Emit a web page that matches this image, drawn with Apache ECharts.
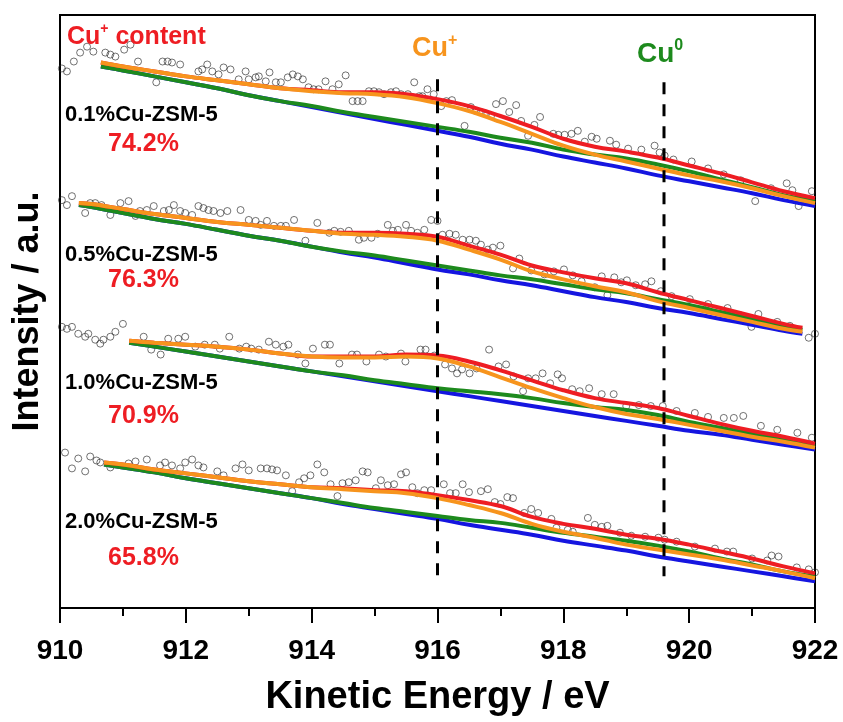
<!DOCTYPE html>
<html>
<head>
<meta charset="utf-8">
<title>Cu LMM</title>
<script src="https://cdn.jsdelivr.net/npm/echarts@6/dist/echarts.min.js"></script>
<style>
  html, body { margin: 0; padding: 0; background: #fff; }
  #chart { width: 843px; height: 722px; }
</style>
</head>
<body>
<div id="chart"></div>
<script>
  // spectra are stacked, so intensity is an offset arbitrary unit
  const samples = ['0.1%Cu-ZSM-5', '0.5%Cu-ZSM-5', '1.0%Cu-ZSM-5', '2.0%Cu-ZSM-5']
  const cuPlusContent = ['74.2%', '76.3%', '70.9%', '65.8%']
  const peakCuPlus = 916
  const peakCu0 = 919.6

  // 0.1%
  const dots1 = [[910.03,545],[910.11,542],[910.22,552],[910.32,561],[910.43,567],[910.53,562],[910.72,561],[910.80,559],[910.88,557],[911.02,564],[911.12,569],[911.24,552],[911.53,531],[911.63,552],[911.71,552],[911.78,551],[911.91,549],[912.20,542],[912.26,544],[912.34,549],[912.42,542],[912.52,539],[912.60,546],[912.71,544],[912.84,534],[912.95,542],[913.00,534],[913.11,536],[913.16,537],[913.27,532],[913.33,541],[913.43,531],[913.51,531],[913.62,536],[913.70,539],[913.78,537],[913.86,534],[913.95,526],[914.03,524],[914.11,524],[914.22,532],[914.33,524],[914.43,529],[914.54,538],[914.65,512],[914.73,512],[914.81,512],[914.91,522],[914.99,522],[915.07,521],[915.15,519],[915.26,521],[915.34,522],[915.42,519],[915.53,519],[915.63,531],[915.71,517],[915.76,517],[915.84,524],[915.94,519],[916.06,507],[916.14,512],[916.23,513],[916.43,487],[916.53,506],[916.61,502],[916.69,501],[916.77,499],[916.85,497],[916.93,509],[917.04,512],[917.14,501],[917.25,508],[917.33,492],[917.44,477],[917.54,488],[917.63,496],[917.84,479],[917.92,478],[918.02,478],[918.13,479],[918.23,482],[918.34,471],[918.45,476],[918.53,474],[918.74,472],[918.84,468],[919.03,464],[919.24,463],[919.45,467],[919.53,460],[919.61,457],[919.75,453],[920.04,451],[920.30,444],[920.55,438],[920.82,432],[921.05,411],[921.30,424],[921.55,429],[921.64,422],[921.74,406],[921.95,421]]
  const fitX1 = [910.65,911,911.5,912,912.5,913,913.5,914,914.5,915,915.5,916,916.5,917,917.5,918,918.5,919,919.5,920,920.5,921,921.5,922]
  const bg1 = [547,543,537,531,525,518,512,506,500,494,488,482,476,469,463,456,450,444,437,431,425,419,412,406]
  const cuI1 = [551,547,542,537,533,529,525,522,520,519,516,510,502,491,479,467,458,451,444,437,431,424,416,409]
  const cu01 = [547,543,537,531,525,518,512,507,501,496,491,486,481,475,470,463,458,454,448,441,433,425,417,411]
  const env1 = [551,547,542,537,533,529,525,523,521,521,519,514,507,497,486,474,466,461,455,447,439,430,421,414]

  // 0.5%
  const dots2 = [[910.03,412],[910.11,407],[910.19,416],[910.40,399],[910.48,409],[910.56,409],[910.66,407],[910.80,397],[910.96,409],[911.09,411],[911.20,396],[911.27,401],[911.38,402],[911.49,406],[911.65,401],[911.73,402],[911.81,407],[911.91,401],[911.99,399],[912.10,397],[912.20,406],[912.28,404],[912.36,402],[912.44,401],[912.55,399],[912.66,401],[912.87,402],[913.00,392],[913.11,391],[913.19,387],[913.29,391],[913.40,386],[913.51,386],[913.59,386],[913.72,392],[913.90,371],[914.09,389],[914.28,379],[914.36,381],[914.46,380],[914.59,381],[914.75,372],[914.83,374],[914.95,374],[915.05,378],[915.21,387],[915.29,381],[915.37,382],[915.50,387],[915.58,381],[915.68,379],[915.79,382],[915.90,392],[916.00,391],[916.08,377],[916.19,378],[916.29,377],[916.40,372],[916.51,372],[916.61,371],[916.69,367],[916.80,362],[916.88,364],[917.00,366],[917.20,343],[917.30,353],[917.49,341],[917.70,337],[917.85,340],[918.01,342],[918.15,336],[918.29,330],[918.50,324],[918.61,335],[918.70,316],[918.81,334],[918.92,329],[919.01,331],[919.15,326],[919.30,327],[919.40,330],[919.55,320],[919.72,315],[920.01,312],[920.30,307],[920.61,303],[920.80,296],[920.99,284],[921.10,297],[921.40,289],[921.60,285],[921.90,273],[922.00,277]]
  const fitX2 = [910.3,910.5,911,911.5,912,912.5,913,913.5,914,914.5,915,915.5,916,916.5,917,917.5,918,918.5,919,919.5,920,920.5,921,921.5,921.8]
  const bg2 = [407,405,399,393,388,382,376,371,365,359,354,348,342,337,331,326,320,314,309,303,298,292,286,280,277]
  const cuI2 = [409,408,403,398,394,390,387,384,381,378,377,375,371,362,352,340,332,325,319,310,303,296,289,282,279]
  const cu02 = [407,405,399,393,388,382,376,371,365,360,356,351,346,341,336,332,327,322,318,312,306,299,292,285,281]
  const env2 = [409,408,403,398,394,390,387,384,381,379,379,378,375,366,357,346,339,333,328,319,311,303,295,287,283]

  // 1.0%
  const dots3 = [[910.03,284],[910.11,282],[910.19,284],[910.29,277],[910.40,274],[910.45,277],[910.56,271],[910.64,267],[910.69,271],[910.80,274],[910.88,279],[911.00,287],[911.33,274],[911.45,261],[911.60,256],[911.72,272],[911.88,272],[911.99,274],[912.15,264],[912.30,266],[912.46,266],[912.54,262],[912.69,274],[912.85,262],[912.96,264],[913.04,262],[913.16,261],[913.32,269],[913.43,266],[913.55,264],[913.63,266],[913.78,256],[913.90,247],[914.02,262],[914.21,266],[914.29,266],[914.44,247],[914.64,256],[914.72,256],[914.87,249],[915.07,256],[915.18,254],[915.42,257],[915.49,249],[915.73,261],[915.81,261],[915.95,255],[916.12,246],[916.23,242],[916.31,237],[916.39,241],[916.51,237],[916.62,242],[916.82,261],[916.97,244],[917.09,246],[917.21,234],[917.36,219],[917.44,232],[917.56,232],[917.67,237],[917.79,227],[917.91,236],[917.98,232],[918.14,221],[918.26,219],[918.41,222],[918.61,216],[918.80,216],[919.00,204],[919.20,205],[919.39,204],[919.58,204],[919.80,199],[920.09,197],[920.30,193],[920.55,192],[920.71,192],[920.86,194],[921.14,184],[921.40,180],[921.72,177],[921.95,172]]
  const fitX3 = [911.1,911.5,912,912.5,913,913.5,914,914.5,915,915.5,916,916.5,917,917.5,918,918.5,919,919.5,920,920.5,921,921.5,922]
  const bg3 = [268,264,259,254,249,244,239,234,229,224,219,214,209,204,199,194,189,184,179,175,170,165,160]
  const cuI3 = [270,268,266,264,261,257,254,253,253,254,252,244,233,222,212,203,196,191,185,179,173,168,162]
  const cu03 = [268,264,259,254,249,244,239,235,230,226,222,219,216,212,207,203,200,195,188,182,176,170,164]
  const env3 = [270,268,266,264,261,257,254,254,254,256,255,249,240,230,220,212,207,202,194,186,179,173,166]

  // 2.0%
  const dots4 = [[910.08,157],[910.19,141],[910.29,151],[910.40,138],[910.48,153],[910.58,149],[910.64,147],[910.80,142],[911.09,146],[911.20,148],[911.38,150],[911.59,144],[911.67,147],[911.78,144],[911.91,141],[911.99,147],[912.10,150],[912.20,144],[912.28,142],[912.50,138],[912.60,134],[912.79,141],[912.90,145],[913.00,139],[913.19,141],[913.29,141],[913.37,140],[913.45,139],[913.59,134],[913.69,118],[913.80,127],[913.88,131],[913.98,134],[914.09,145],[914.20,137],[914.30,125],[914.41,113],[914.49,126],[914.59,127],[914.70,129],[914.81,138],[914.89,137],[915.02,121],[915.10,129],[915.21,124],[915.31,125],[915.42,135],[915.50,137],[915.60,122],[915.68,116],[915.79,119],[915.90,119],[916.10,125],[916.20,116],[916.29,116],[916.40,125],[916.50,117],[916.69,118],[916.80,120],[916.91,107],[917.00,105],[917.11,112],[917.20,111],[917.38,96],[917.49,100],[917.60,96],[917.81,90],[917.89,81],[918.07,79],[918.15,77],[918.39,91],[918.50,84],[918.61,82],[918.70,83],[918.90,76],[919.08,73],[919.30,72],[919.51,71],[919.61,69],[919.80,67],[920.09,62],[920.41,60],[920.60,57],[920.70,57],[921.00,50],[921.24,48],[921.31,53],[921.42,52],[921.71,41],[921.90,39],[922.00,36]]
  const fitX4 = [910.7,911,911.5,912,912.5,913,913.5,914,914.5,915,915.5,916,916.5,917,917.5,918,918.5,919,919.5,920,920.5,921,921.5,922]
  const bg4 = [145,142,137,131,126,121,116,111,105,100,95,90,84,79,74,68,63,58,52,47,42,37,32,27]
  const cuI4 = [147,145,140,136,132,128,125,122,120,118,116,111,104,96,85,77,71,64,59,54,49,43,37,30]
  const cu04 = [145,142,137,131,126,121,116,111,106,101,97,93,89,86,81,76,72,68,63,57,50,44,37,32]
  const env4 = [147,145,140,136,132,128,125,122,121,119,118,114,109,103,92,85,80,74,70,64,57,50,42,35]

  const FONT = 'Liberation Sans, Arial, sans-serif'
  const RED = '#ee1d23'
  const ORANGE = '#f7941d'
  const GREEN = '#1d8a1d'
  const BLUE = '#1515e0'

  function zip(xs, ys) {
    return xs.map(function (x, i) { return [x, ys[i]] })
  }

  function fitLine(xs, ys, color, z) {
    return {
      type: 'line',
      data: zip(xs, ys),
      smooth: 0.4,
      symbol: 'none',
      silent: true,
      z: z,
      lineStyle: { color: color, width: 4 }
    }
  }

  function dots(d) {
    return {
      type: 'scatter',
      data: d,
      symbol: 'circle',
      symbolSize: 7,
      silent: true,
      z: 1,
      itemStyle: { color: 'rgba(0,0,0,0)', borderColor: '#222', borderWidth: 0.8 }
    }
  }

  function dashed(x, top, bottom) {
    return {
      type: 'line',
      data: [[x, top], [x, bottom]],
      symbol: 'none',
      silent: true,
      z: 10,
      lineStyle: { color: '#000', width: 3, type: [12, 10] }
    }
  }

  const spectra = [
    [dots1, fitX1, bg1, cu01, env1, cuI1],
    [dots2, fitX2, bg2, cu02, env2, cuI2],
    [dots3, fitX3, bg3, cu03, env3, cuI3],
    [dots4, fitX4, bg4, cu04, env4, cuI4]
  ]

  var series = []
  spectra.forEach(function (s) {
    series.push(dots(s[0]))
    series.push(fitLine(s[1], s[2], BLUE, 2))
    series.push(fitLine(s[1], s[3], GREEN, 3))
    series.push(fitLine(s[1], s[4], RED, 4))
    series.push(fitLine(s[1], s[5], ORANGE, 5))
  })
  series.push(dashed(peakCuPlus, 534, 31))
  series.push(dashed(peakCu0, 531, 32))

  // label positions (pixels)
  const labelY = [115, 255, 383, 522]
  const pctY = [144, 280, 416, 558]

  var graphics = []
  samples.forEach(function (name, i) {
    graphics.push({
      type: 'text', x: 65, y: labelY[i], z: 20,
      style: { text: name, fill: '#000', font: 'bold 22px ' + FONT, verticalAlign: 'middle' }
    })
    graphics.push({
      type: 'text', x: 108, y: pctY[i], z: 20,
      style: { text: cuPlusContent[i], fill: RED, font: 'bold 25px ' + FONT, verticalAlign: 'middle' }
    })
  })

  function supText(x, y, main, sup, rest, color, size) {
    return {
      type: 'text', x: x, y: y, z: 20,
      style: {
        text: '{b|' + main + '}{s|' + sup + '}' + (rest ? '{b|' + rest + '}' : ''),
        verticalAlign: 'middle',
        rich: {
          b: { fontSize: size, fontWeight: 'bold', fontFamily: FONT, fill: color, lineHeight: size + 5 },
          s: { fontSize: Math.round(size * 0.58), fontWeight: 'bold', fontFamily: FONT, fill: color, verticalAlign: 'top' }
        }
      }
    }
  }

  graphics.push(supText(67, 37, 'Cu', '+', ' content', RED, 25))
  graphics.push(supText(412, 49, 'Cu', '+', '', ORANGE, 27))
  graphics.push(supText(637, 54, 'Cu', '0', '', GREEN, 28))

  var chart = echarts.init(document.getElementById('chart'))
  chart.setOption({
    animation: false,
    backgroundColor: '#fff',
    grid: {
      left: 60, right: 28, top: 15, bottom: 108,
      show: true, borderColor: '#000', borderWidth: 2
    },
    xAxis: {
      type: 'value',
      min: 910,
      max: 922,
      interval: 2,
      name: 'Kinetic Energy / eV',
      nameLocation: 'middle',
      nameGap: 71,
      nameTextStyle: { fontSize: 38, fontWeight: 'bold', color: '#000', fontFamily: FONT },
      axisLine: { lineStyle: { color: '#000', width: 2 } },
      axisTick: { length: 15, lineStyle: { color: '#000', width: 2 } },
      minorTick: { show: true, splitNumber: 2, length: 8, lineStyle: { color: '#000', width: 2 } },
      axisLabel: { fontSize: 28, fontWeight: 'bold', color: '#000', fontFamily: FONT, margin: 29 },
      splitLine: { show: false }
    },
    yAxis: {
      type: 'value',
      min: 0,
      max: 599,
      name: 'Intensity / a.u.',
      nameLocation: 'middle',
      nameGap: 14,
      nameTextStyle: { fontSize: 36, fontWeight: 'bold', color: '#000', fontFamily: FONT },
      axisLine: { show: false },
      axisTick: { show: false },
      axisLabel: { show: false },
      splitLine: { show: false }
    },
    graphic: graphics,
    series: series
  })
</script>
</body>
</html>
